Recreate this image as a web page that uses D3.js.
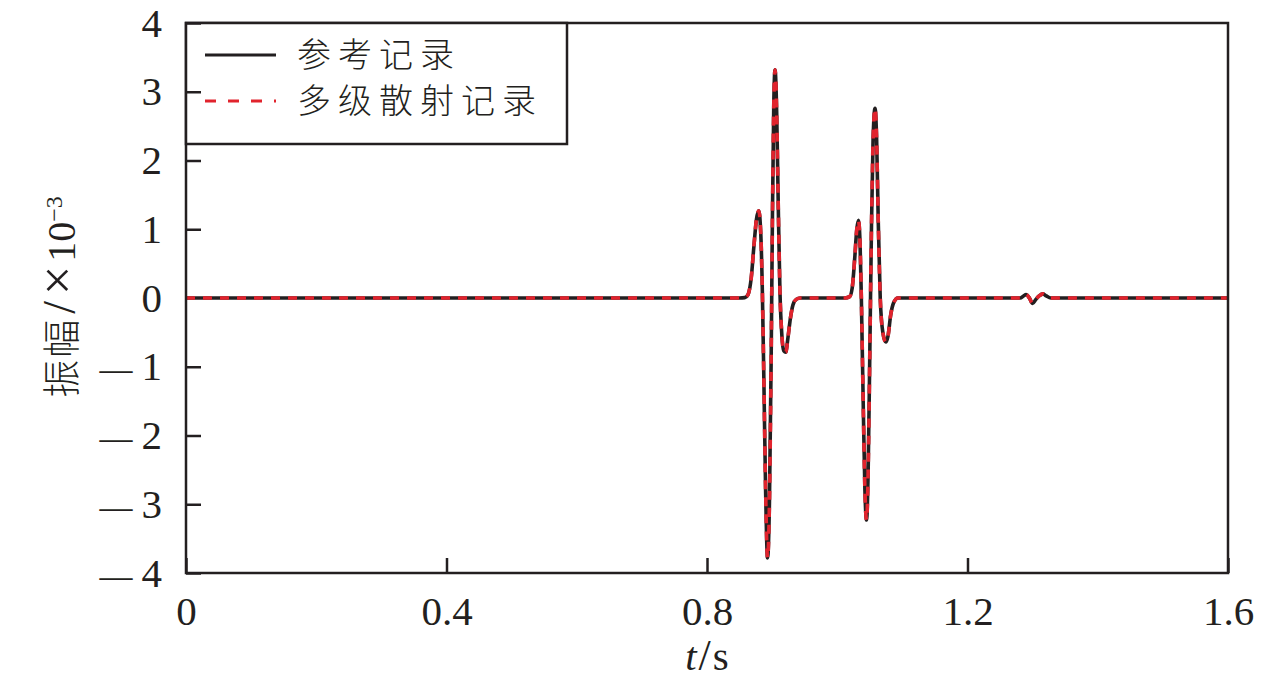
<!DOCTYPE html>
<html><head><meta charset="utf-8">
<script src="https://cdn.jsdelivr.net/npm/d3@7"></script>
<style>body{margin:0;background:#fff}</style>
</head><body>
<svg id="c" width="1280" height="690"></svg>
<script>
// ---- data ----
const timeS = [0, 0.400, 0.800, 0.850, 0.858, 0.863, 0.868, 0.872, 0.876, 0.8795, 0.8825, 0.885, 0.8875, 0.890, 0.893, 0.896, 0.8985, 0.9005, 0.9025, 0.9045, 0.907, 0.9095, 0.912, 0.915, 0.918, 0.921, 0.924, 0.928, 0.932, 0.937, 0.943, 0.970,
  1.000, 1.012, 1.019, 1.023, 1.027, 1.030, 1.0325, 1.035, 1.037, 1.040, 1.0425, 1.045, 1.0475, 1.050, 1.0525, 1.055, 1.058, 1.0605, 1.063, 1.066, 1.070, 1.0745, 1.078, 1.082, 1.087, 1.093, 1.150, 1.200,
  1.281, 1.286, 1.290, 1.295, 1.300, 1.305, 1.310, 1.316, 1.321, 1.328, 1.400, 1.6];
const refAmp = [0, 0, 0, 0, 0.005, 0.05, 0.3, 0.75, 1.15, 1.27, 0.95, 0.1, -1.3, -2.8, -3.78, -2.9, -0.9, 1.2, 2.8, 3.32, 2.7, 1.3, 0.1, -0.55, -0.77, -0.79, -0.6, -0.3, -0.1, -0.02, 0, 0,
  0, 0, 0.02, 0.15, 0.6, 1.0, 1.13, 0.8, 0, -1.6, -2.8, -3.23, -2.5, -0.8, 1.0, 2.3, 2.76, 2.3, 1.1, 0.0, -0.5, -0.64, -0.55, -0.25, -0.06, 0, 0, 0,
  0, 0.03, 0.05, 0.0, -0.08, -0.02, 0.03, 0.06, 0.03, 0, 0, 0];
const multiAmp = [0, 0, 0, 0, 0.005, 0.05, 0.3, 0.75, 1.15, 1.27, 0.95, 0.1, -1.3, -2.8, -3.78, -2.9, -0.9, 1.2, 2.8, 3.32, 2.7, 1.3, 0.1, -0.55, -0.77, -0.79, -0.6, -0.3, -0.1, -0.02, 0, 0,
  0, 0, 0.02, 0.15, 0.6, 1.0, 1.13, 0.8, 0, -1.6, -2.8, -3.23, -2.5, -0.8, 1.0, 2.3, 2.76, 2.3, 1.1, 0.0, -0.5, -0.64, -0.55, -0.25, -0.06, 0, 0, 0,
  0, 0.03, 0.05, 0.0, -0.08, -0.02, 0.03, 0.06, 0.03, 0, 0, 0];
const xTicks = [0, 0.4, 0.8, 1.2, 1.6];
const xTickLabels = ["0", "0.4", "0.8", "1.2", "1.6"];
const yTicks = [-4, -3, -2, -1, 0, 1, 2, 3, 4];
const yTickLabels = ["4", "3", "2", "1", "0", "1", "2", "3", "4"];
const legendLabels = ["参考记录", "多级散射记录"];

// ---- layout ----
const svg = d3.select("#c");
const L = 186, R = 1228, T = 23, B = 573;
const ink = "#231f20", red = "#e1232d";
const serif = "'Liberation Serif','Times New Roman',serif";
const cjk = "'Noto Sans CJK SC','Noto Sans CJK JP',sans-serif";

const x = d3.scaleLinear().domain([0, 1.6]).range([L, R]);
const y = d3.scaleLinear().domain([-4, 4]).range([B, T]);

// lines
const pts = (vals) => timeS.map((t, i) => [t, vals[i]]);
const line = d3.line().x(d => x(d[0])).y(d => y(d[1])).curve(d3.curveMonotoneX);
svg.append("path").attr("d", line(pts(refAmp))).attr("fill", "none")
  .attr("stroke", ink).attr("stroke-width", 3.6).attr("stroke-linejoin", "round");
svg.append("path").attr("d", line(pts(multiAmp))).attr("fill", "none")
  .attr("stroke", red).attr("stroke-width", 3.6).attr("stroke-dasharray", "9,8");

// frame
svg.append("rect").attr("x", L).attr("y", T).attr("width", R - L).attr("height", B - T)
  .attr("fill", "none").attr("stroke", ink).attr("stroke-width", 2.5);

// legend
const lg = svg.append("g");
lg.append("rect").attr("x", L).attr("y", T).attr("width", 567 - L).attr("height", 144 - T)
  .attr("fill", "#fff").attr("stroke", ink).attr("stroke-width", 2.5);
const rows = [{y: 55, color: ink, dash: null}, {y: 101, color: red, dash: "11,12"}];
rows.forEach((r, i) => {
  lg.append("line").attr("x1", 205).attr("x2", 276).attr("y1", r.y).attr("y2", r.y)
    .attr("stroke", r.color).attr("stroke-width", 3).attr("stroke-dasharray", r.dash);
  lg.append("text").attr("x", 297).attr("y", r.y).attr("dy", "0.36em")
    .style("font-family", cjk).style("font-weight", 300).style("font-size", "34px")
    .style("letter-spacing", "7px").attr("fill", ink).text(legendLabels[i]);
});

// axes (drawn above legend, as in the reference)
const gx = svg.append("g").attr("transform", `translate(0,${B})`)
  .call(d3.axisBottom(x).tickValues(xTicks).tickFormat((d, i) => xTickLabels[i])
    .tickSizeInner(-15).tickSizeOuter(0).tickPadding(23));
const gy = svg.append("g").attr("transform", `translate(${L},0)`)
  .call(d3.axisLeft(y).tickValues(yTicks).tickFormat((d, i) => yTickLabels[i])
    .tickSizeInner(-15).tickSizeOuter(0).tickPadding(24));
[gx, gy].forEach(g => {
  g.select(".domain").remove();
  g.selectAll(".tick line").attr("stroke", ink).attr("stroke-width", 2.5);
  g.selectAll(".tick text").attr("fill", ink).style("font-family", serif).style("font-size", "41px");
});
gy.selectAll(".tick").filter(d => d === 0).select("line").remove();
gy.selectAll(".tick text").each(function (d, i) {
  const t = d3.select(this);
  if (d < 0) {
    t.text(null);
    t.append("tspan").text("\u2014").style("font-size", "33px");
    t.append("tspan").attr("dx", 9).text(yTickLabels[i]);
  }
});

// axis titles
const xt = svg.append("text").attr("x", x(0.8)).attr("y", 670).attr("text-anchor", "middle")
  .attr("fill", ink).style("font-family", serif).style("font-size", "41px");
xt.append("tspan").style("font-family", serif).style("font-style", "italic").text("t");
xt.append("tspan").style("font-family", serif).style("font-size", "44px").attr("dx", 2).text("/");
xt.append("tspan").style("font-family", serif).attr("dx", 2).text("s");

const yt = svg.append("text").attr("transform", "translate(61,297) rotate(-90)")
  .attr("text-anchor", "middle").attr("dy", "0.36em").attr("fill", ink)
  .style("font-family", serif).style("font-size", "40px");
yt.append("tspan").style("font-family", cjk).style("font-weight", 300).style("font-size", "38px")
  .style("letter-spacing", "2px").text("振幅");
yt.append("tspan").attr("dx", 4).style("font-family", serif).style("font-size", "46px").text("/");
yt.append("tspan").attr("dx", 6).style("font-family", serif).style("font-size", "52px").text("×");
yt.append("tspan").attr("dx", 4).style("font-family", serif).text("10");
yt.append("tspan").attr("dy", "-0.55em").style("font-family", serif).style("font-size", "24px").text("−3");
</script>
</body></html>
